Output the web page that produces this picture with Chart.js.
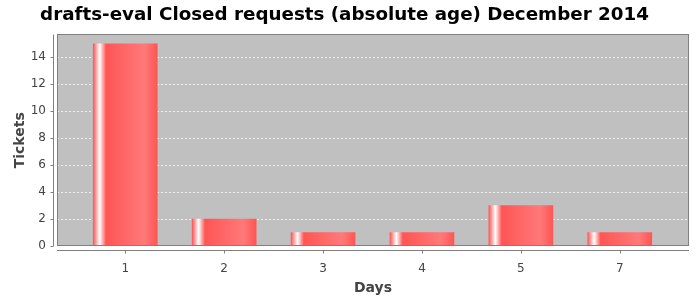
<!DOCTYPE html>
<html>
<head>
<meta charset="utf-8">
<script src="https://cdn.jsdelivr.net/npm/chart.js@4/dist/chart.umd.min.js"></script>
<style>
  html, body { margin: 0; padding: 0; background: #ffffff; }
  #wrap { width: 700px; height: 300px; }
</style>
</head>
<body>
<div id="wrap"><canvas id="c" width="700" height="300"></canvas></div>
<script>
const titleText = "drafts-eval Closed requests (absolute age) December 2014";
const categories = ["1", "2", "3", "4", "5", "7"];
const ticketValues = [15, 2, 1, 1, 3, 1];
const yTicks = [0, 2, 4, 6, 8, 10, 12, 14];
const xAxisTitle = "Days";
const yAxisTitle = "Tickets";

const BASE = '#ff5555';
const BRIGHT = '#ff7979';

function barGradient(context) {
  const chart = context.chart;
  const xs = chart.scales && chart.scales.x;
  if (!xs || context.dataIndex === undefined) return BASE;
  const cx = xs.getPixelForValue(context.dataIndex);
  if (!isFinite(cx)) return BASE;
  const half = 32;
  const g = chart.ctx.createLinearGradient(cx - half, 0, cx + half, 0);
  g.addColorStop(0.0, BASE);
  g.addColorStop(0.10, '#ffffff');
  g.addColorStop(0.20, BASE);
  g.addColorStop(0.80, BRIGHT);
  g.addColorStop(1.0, BASE);
  return g;
}

const plotDecor = {
  id: 'plotDecor',
  beforeDraw(chart) {
    const {ctx, chartArea: a} = chart;
    ctx.save();
    ctx.fillStyle = '#c0c0c0';
    ctx.fillRect(a.left, a.top, a.right - a.left, a.bottom - a.top);
    ctx.restore();
  },
  afterDraw(chart) {
    const {ctx, chartArea: a, scales} = chart;
    ctx.save();
    ctx.strokeStyle = '#808080';
    ctx.lineWidth = 1;
    ctx.strokeRect(Math.round(a.left) + 0.5, Math.round(a.top) + 0.5,
                   Math.round(a.right - a.left) - 1, Math.round(a.bottom - a.top) - 1);
    const yx = Math.round(a.left) - 4 + 0.5;
    ctx.beginPath();
    ctx.moveTo(yx, a.top);
    ctx.lineTo(yx, a.bottom);
    scales.y.ticks.forEach(t => {
      const py = Math.round(scales.y.getPixelForValue(t.value)) + 0.5;
      ctx.moveTo(yx, py);
      ctx.lineTo(yx - 3, py);
    });
    ctx.stroke();
    const xy = Math.round(a.bottom) + 4 + 0.5;
    ctx.beginPath();
    ctx.moveTo(a.left, xy);
    ctx.lineTo(a.right, xy);
    scales.x.ticks.forEach(t => {
      const px = Math.round(scales.x.getPixelForValue(t.value)) + 0.5;
      ctx.moveTo(px, xy);
      ctx.lineTo(px, xy + 3);
    });
    ctx.stroke();
    ctx.restore();
  }
};

new Chart(document.getElementById('c'), {
  type: 'bar',
  data: {
    datasets: [{
      label: yAxisTitle,
      data: ticketValues.map((v, i) => ({x: i, y: v})),
      backgroundColor: barGradient,
      borderWidth: 0,
      barThickness: 64
    }]
  },
  options: {
    responsive: false,
    animation: false,
    events: [],
    layout: { padding: { left: 0, right: 11, top: 0, bottom: 0 } },
    plugins: {
      legend: { display: false },
      tooltip: { enabled: false },
      title: {
        display: true,
        text: titleText,
        color: '#000000',
        font: { family: "'DejaVu Sans', sans-serif", size: 18.3, weight: 'bold' },
        padding: { top: 4, bottom: 8.5 }
      }
    },
    scales: {
      x: {
        type: 'linear',
        offset: false,
        min: -0.69,
        max: 5.70,
        grid: { display: false, drawTicks: false },
        border: { display: false },
        afterBuildTicks(scale) { scale.ticks = categories.map((c, i) => ({value: i})); },
        afterFit(scale) { scale.height = 54; },
        ticks: {
          autoSkip: false,
          maxRotation: 0,
          padding: 16,
          color: '#444444',
          font: { family: "'DejaVu Sans', sans-serif", size: 12 },
          callback: (v) => categories[v] !== undefined ? categories[v] : ''
        },
        title: {
          display: true,
          text: xAxisTitle,
          color: '#444444',
          font: { family: "'DejaVu Sans', sans-serif", size: 14, weight: 'bold' },
          padding: { top: 0, bottom: 3 }
        }
      },
      y: {
        min: 0,
        max: 15.7,
        grid: {
          drawTicks: false,
          color: (ctx) => ctx.tick && ctx.tick.value === 0 ? 'rgba(0,0,0,0)' : 'rgba(255,255,255,0.75)',
          lineWidth: 1
        },
        border: { display: false, dash: [2, 2] },
        afterBuildTicks(scale) { scale.ticks = yTicks.map(v => ({value: v})); },
        afterFit(scale) { scale.width = 57; },
        ticks: {
          padding: 11,
          color: '#444444',
          font: { family: "'DejaVu Sans', sans-serif", size: 12 }
        },
        title: {
          display: true,
          text: yAxisTitle,
          color: '#444444',
          font: { family: "'DejaVu Sans', sans-serif", size: 14, weight: 'bold' },
          padding: { top: 12, bottom: 0 }
        }
      }
    }
  },
  plugins: [plotDecor]
});
</script>
</body>
</html>
